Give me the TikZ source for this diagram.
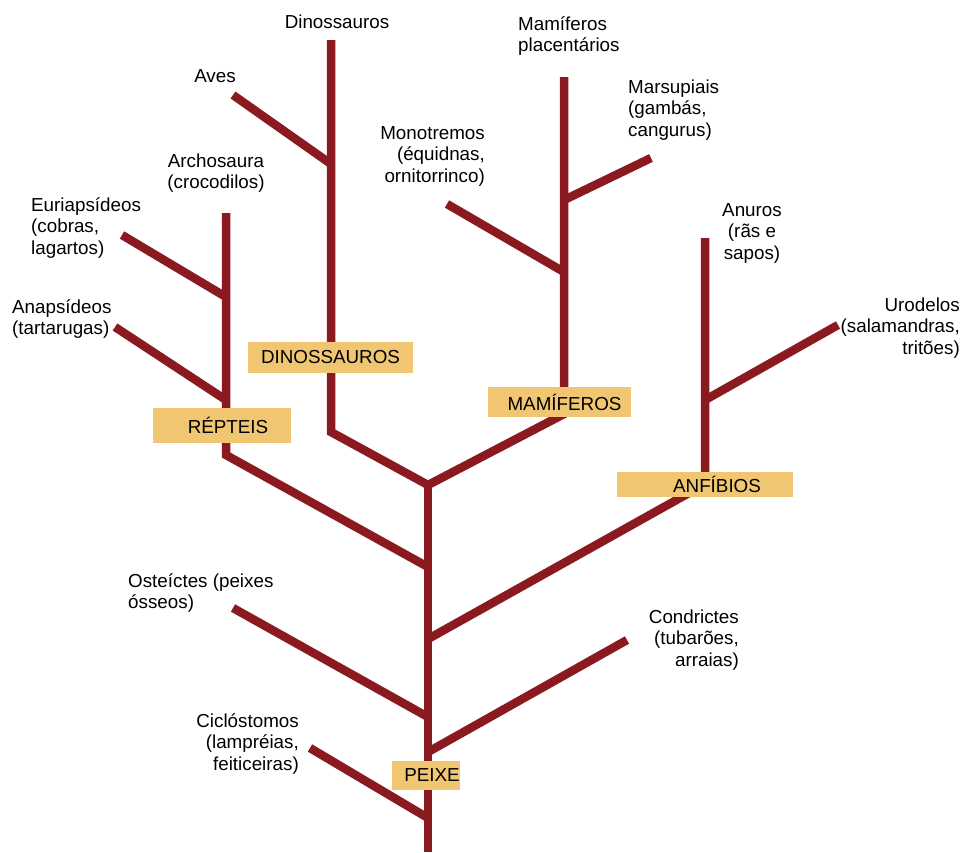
\documentclass[tikz,border=0pt]{standalone}
\usepackage{fontspec}
\setmainfont{Liberation Sans}
\definecolor{branch}{HTML}{8A1A1F}
\definecolor{tag}{HTML}{F0C673}
\begin{document}
\begin{tikzpicture}[x=1pt,y=-1pt,
  br/.style={draw=branch, line width=8.5pt, line join=miter, line cap=butt},
  lbl/.style={font=\fontsize{18.8}{21.5}\selectfont, inner sep=0pt},
  tagbox/.style={fill=tag, inner sep=0pt, font=\fontsize{18.8}{21.5}\selectfont}]
\useasboundingbox[fill=white] (0,0) rectangle (973,852);

% junctions on the main trunk
\coordinate (root) at (428,852);
\coordinate (cicJ) at (428,818);
\coordinate (conJ) at (428,752);
\coordinate (ostJ) at (428,717);
\coordinate (anfJ) at (428,639);
\coordinate (repJ) at (428,567);
\coordinate (top)  at (428,485);

% free ends of the branches
\coordinate (cicE) at (310,748);
\coordinate (conE) at (627,640);
\coordinate (ostE) at (233,608);
\coordinate (anfK) at (705,484);
\coordinate (anfT) at (705,238);
\coordinate (uroJ) at (705,400);
\coordinate (uroE) at (838,325);
\coordinate (repK) at (226,455);
\coordinate (repT) at (226,213);
\coordinate (eurJ) at (226,297);
\coordinate (eurE) at (122,235);
\coordinate (anaJ) at (226,400);
\coordinate (anaE) at (115,327);
\coordinate (dinK) at (331,432);
\coordinate (dinT) at (331,40);
\coordinate (aveJ) at (331,164);
\coordinate (aveE) at (233,95);
\coordinate (mamK) at (564,414);
\coordinate (mamT) at (564,77);
\coordinate (monJ) at (564,272);
\coordinate (monE) at (447,204);
\coordinate (marJ) at (564,200);
\coordinate (marE) at (651,158);

% the tree
\draw[br] (root) -- (top);
\draw[br] (cicE) -- (cicJ);
\draw[br] (conE) -- (conJ);
\draw[br] (ostE) -- (ostJ);
\draw[br] (anfT) -- (anfK) -- (anfJ);
\draw[br] (uroE) -- (uroJ);
\draw[br] (repT) -- (repK) -- (repJ);
\draw[br] (eurE) -- (eurJ);
\draw[br] (anaE) -- (anaJ);
\draw[br] (dinT) -- (dinK) -- (top) -- (mamK) -- (mamT);
\draw[br] (aveE) -- (aveJ);
\draw[br] (monE) -- (monJ);
\draw[br] (marE) -- (marJ);

% group tags
\node[tagbox, minimum width=165pt, minimum height=31pt] (dinoTag) at (330.5,357.5) {DINOSSAUROS};
\node[tagbox, minimum width=138pt, minimum height=35pt] (repTag) at (222,425.5) {\hspace*{12pt}RÉPTEIS};
\node[tagbox, minimum width=143pt, minimum height=30pt] (mamTag) at (559.5,402) {\hspace*{10pt}MAMÍFEROS};
\node[tagbox, minimum width=176pt, minimum height=25pt] (anfTag) at (705,484.5) {\hspace*{24pt}ANFÍBIOS};
\node[tagbox, minimum width=66pt, minimum height=29pt] (peiTag) at (426,775.5) {\hspace*{12pt}PEIXE};

% taxon labels
\node[lbl] (dinoL) at (337,22) {Dinossauros};
\node[lbl] (avesL) at (215,76) {Aves};
\node[lbl, align=center] (archL) at (216,173) {Archosaura\\(crocodilos)};
\node[lbl, align=left, anchor=west] (euriL) at (31,228) {Euriapsídeos\\(cobras,\\lagartos)};
\node[lbl, align=left, anchor=west] (anapL) at (12,319) {Anapsídeos\\(tartarugas)};
\node[lbl, align=right, anchor=east] (monoL) at (485,156) {Monotremos\\(équidnas,\\ornitorrinco)};
\node[lbl, align=left, anchor=west] (placL) at (518,36) {Mamíferos\\placentários};
\node[lbl, align=left, anchor=west] (marsL) at (628,110) {Marsupiais\\(gambás,\\cangurus)};
\node[lbl, align=center] (anurL) at (752,233) {Anuros\\(rãs e\\sapos)};
\node[lbl, align=right, anchor=east] (uroL) at (960,328) {Urodelos\\(salamandras,\\tritões)};
\node[lbl, align=left, anchor=west] (ostL) at (128,593) {Osteíctes (peixes\\ósseos)};
\node[lbl, align=right, anchor=east] (conL) at (739,640) {Condrictes\\(tubarões,\\arraias)};
\node[lbl, align=right, anchor=east] (cicL) at (299,744) {Ciclóstomos\\(lampréias,\\feiticeiras)};
\end{tikzpicture}
\end{document}
